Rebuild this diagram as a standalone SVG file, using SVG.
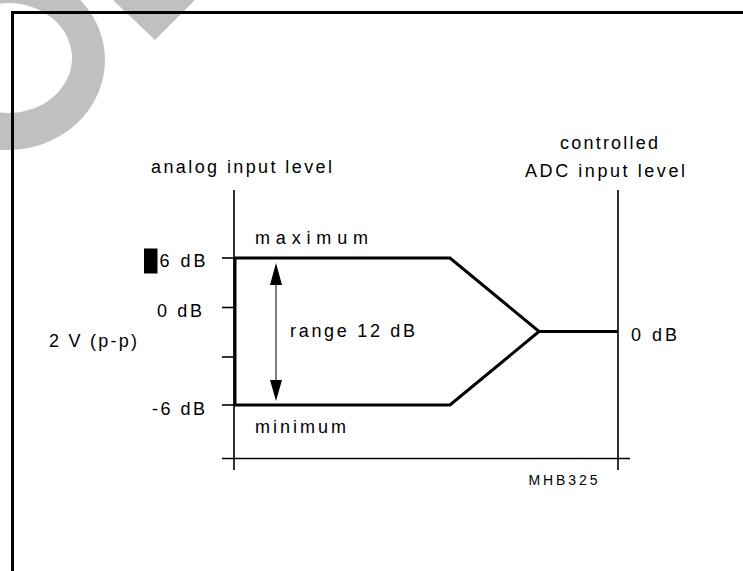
<svg xmlns="http://www.w3.org/2000/svg" width="743" height="571" viewBox="0 0 743 571">
<style>
text{font-family:"Liberation Sans",Arial,sans-serif;font-size:18px;fill:#000}
.small{font-size:14px}
.thin{stroke:#000;stroke-width:1.6;fill:none}
.thick{stroke:#000;stroke-width:3;fill:none;stroke-linejoin:miter}
.wm{fill:#c0c0c0}
</style>
<rect width="743" height="571" fill="#fff"/>
<g id="watermark">
<path class="wm" fill-rule="evenodd" d="M-89,60 a97,90 0 1,0 194,0 a97,90 0 1,0 -194,0 Z M-56,58 a64,55 0 1,0 128,0 a64,55 0 1,0 -128,0 Z"/>
<polygon class="wm" points="113,0 195,0 155,40"/>
</g>
<g id="frame">
<path d="M12.5,571 V12.5 H743" stroke="#000" stroke-width="3" fill="none"/>
</g>
<g id="axes">
<line class="thin" x1="234" y1="190" x2="234" y2="470"/>
<line class="thin" x1="618" y1="190" x2="618" y2="470"/>
<line class="thin" x1="222" y1="458.5" x2="630" y2="458.5"/>
<line class="thin" x1="222" y1="258" x2="234" y2="258"/>
<line class="thin" x1="222" y1="307.5" x2="234" y2="307.5"/>
<line class="thin" x1="222" y1="357" x2="234" y2="357"/>
<line class="thin" x1="222" y1="405" x2="234" y2="405"/>
</g>
<g id="connectors">
<line x1="235" y1="258" x2="235" y2="405" stroke="#000" stroke-width="3"/>
<polyline class="thick" points="234,258 450,258 539,331.5 618,331.5"/>
<polyline class="thick" points="234,405 450,405 539,331.5"/>
<line x1="276" y1="280" x2="276" y2="385" stroke="#555" stroke-width="1.5"/>
<polygon points="276,263 270,285 282,285" fill="#000"/>
<polygon points="276,401 270,380 282,380" fill="#000"/>
</g>
<g id="labels">
<text x="151" y="173" textLength="181" lengthAdjust="spacing">analog input level</text>
<text x="560" y="149" textLength="98" lengthAdjust="spacing">controlled</text>
<text x="525" y="177" textLength="160" lengthAdjust="spacing">ADC input level</text>
<text x="255" y="244" textLength="113" lengthAdjust="spacing">maximum</text>
<text x="255" y="433" textLength="91" lengthAdjust="spacing">minimum</text>
<rect x="144" y="248.5" width="13.5" height="25" fill="#000"/>
<text x="159.5" y="266.5" textLength="46" lengthAdjust="spacing">6 dB</text>
<text x="157" y="316.5" textLength="45" lengthAdjust="spacing">0 dB</text>
<text x="152" y="415" textLength="53" lengthAdjust="spacing">-6 dB</text>
<text x="49" y="346.5" textLength="88" lengthAdjust="spacing">2 V (p-p)</text>
<text x="290" y="336.5" textLength="125" lengthAdjust="spacing">range 12 dB</text>
<text x="631" y="340.5" textLength="46" lengthAdjust="spacing">0 dB</text>
<text class="small" x="528.5" y="485" textLength="69" lengthAdjust="spacing">MHB325</text>
</g>
</svg>
